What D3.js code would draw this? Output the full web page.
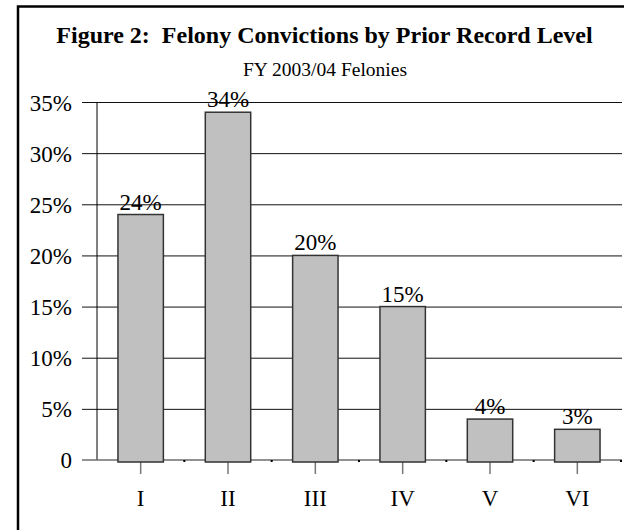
<!DOCTYPE html>
<html>
<head>
<meta charset="utf-8">
<script src="https://cdn.jsdelivr.net/npm/d3@7"></script>
<style>
  body { margin: 0; background: #fff; }
  svg { display: block; font-family: "Liberation Serif", "Times New Roman", serif; }
</style>
</head>
<body>
<svg width="624" height="530"></svg>
<script>
const categories = ["I", "II", "III", "IV", "V", "VI"];
const shares = [0.24, 0.34, 0.20, 0.15, 0.04, 0.03];
const yTicks = [0, 0.05, 0.10, 0.15, 0.20, 0.25, 0.30, 0.35];
const yTickLabels = ["0", "5%", "10%", "15%", "20%", "25%", "30%", "35%"];
const title = "Figure 2:\u00a0 Felony Convictions by Prior Record Level";
const subtitle = "FY 2003/04 Felonies";

const svg = d3.select("svg");

// outer frame (cropped on right and bottom)
svg.append("rect")
  .attr("x", 18)
  .attr("y", 6.5)
  .attr("width", 800)
  .attr("height", 800)
  .attr("fill", "none")
  .attr("stroke", "#000")
  .attr("stroke-width", 2.5);

svg.append("text")
  .attr("x", 324.5)
  .attr("y", 43)
  .attr("text-anchor", "middle")
  .style("font-size", "24px")
  .style("font-weight", "bold")
  .text(title);

svg.append("text")
  .attr("x", 325)
  .attr("y", 76)
  .attr("text-anchor", "middle")
  .style("font-size", "19.5px")
  .text(subtitle);

const x = d3.scaleBand()
  .domain(categories)
  .range([97, 621])
  .paddingInner(0.48)
  .paddingOuter(0.24);

const y = d3.scaleLinear()
  .domain([0, 0.35])
  .range([460, 102]);

// gridlines + left ticks
const yAxis = svg.append("g")
  .attr("transform", "translate(97,0)")
  .call(d3.axisLeft(y)
    .tickValues(yTicks.slice(1))
    .tickSize(15)
    .tickFormat((d, i) => yTickLabels[i + 1]));
yAxis.select(".domain").remove();
yAxis.selectAll(".tick line")
  .attr("x2", 621 - 97 + 1)
  .attr("x1", -15)
  .attr("stroke", "#111");
yAxis.selectAll(".tick text")
  .attr("x", -25)
  .attr("dy", "0.35em")
  .style("font-size", "23px")
  .style("font-family", "Liberation Serif")
  .attr("fill", "#000");

// zero label
svg.append("text")
  .attr("x", 72)
  .attr("y", y(0))
  .attr("dy", "0.35em")
  .attr("text-anchor", "end")
  .style("font-size", "23px")
  .text(yTickLabels[0]);

// vertical axis line
svg.append("line")
  .attr("x1", 97).attr("x2", 97)
  .attr("y1", y(0.35)).attr("y2", y(0))
  .attr("stroke", "#000");

// zero baseline
svg.append("line")
  .attr("x1", 82).attr("x2", 622)
  .attr("y1", y(0)).attr("y2", y(0))
  .attr("stroke", "#6e6e6e")
  .attr("stroke-width", 1.5);

// small marks at band boundaries
svg.append("g")
  .selectAll("rect")
  .data(categories)
  .join("rect")
  .attr("x", d => x(d) + x.bandwidth() / 2 + x.step() / 2 - 1)
  .attr("y", y(0))
  .attr("width", 2)
  .attr("height", 2)
  .attr("fill", "#000");

// category ticks and labels
const xAxis = svg.append("g")
  .attr("transform", `translate(0,${y(0)})`)
  .call(d3.axisBottom(x).tickSize(14).tickPadding(16));
xAxis.select(".domain").remove();
xAxis.selectAll(".tick line")
  .attr("stroke", "#777")
  .attr("stroke-width", 1.5);
xAxis.selectAll(".tick text")
  .style("font-size", "23px")
  .style("font-family", "Liberation Serif")
  .attr("fill", "#000");

// bars
svg.append("g")
  .selectAll("rect")
  .data(shares)
  .join("rect")
  .attr("x", (d, i) => x(categories[i]))
  .attr("y", d => y(d))
  .attr("width", x.bandwidth())
  .attr("height", d => y(0) - y(d) + 2)
  .attr("fill", "#c0c0c0")
  .attr("stroke", "#333")
  .attr("stroke-width", 1.5);

// value labels
svg.append("g")
  .selectAll("text")
  .data(shares)
  .join("text")
  .attr("x", (d, i) => x(categories[i]) + x.bandwidth() / 2)
  .attr("y", d => y(d) - 5)
  .attr("text-anchor", "middle")
  .style("font-size", "23px")
  .text(d => Math.round(d * 100) + "%");
</script>
</body>
</html>
